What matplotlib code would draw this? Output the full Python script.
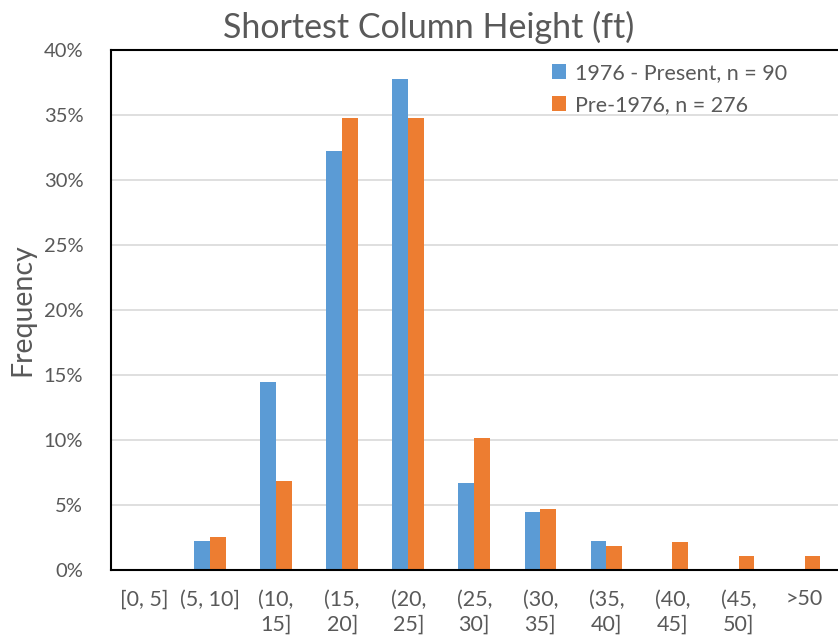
import matplotlib
matplotlib.use("Agg")
import matplotlib.pyplot as plt
import numpy as np
from matplotlib.ticker import PercentFormatter

categories = ["[0, 5]", "(5, 10]", "(10,\n15]", "(15,\n20]", "(20,\n25]", "(25,\n30]",
              "(30,\n35]", "(35,\n40]", "(40,\n45]", "(45,\n50]", ">50"]
present_pct = [0.0, 2.22, 14.44, 32.22, 37.78, 6.67, 4.44, 2.22, 0.0, 0.0, 0.0]
pre1976_pct = [0.0, 2.54, 6.88, 34.78, 34.78, 10.14, 4.71, 1.81, 2.17, 1.09, 1.09]
series_names = ["1976 - Present, n = 90", "Pre-1976, n = 276"]

plt.rcParams['font.family'] = ['Lato', 'DejaVu Sans']
text_color = "#595959"

fig = plt.figure(figsize=(8.38, 6.44), dpi=100)
ax = fig.add_axes([0.1325, 0.1149, 0.867, 0.8075])

x = np.arange(len(categories))
w = 0.24
ax.bar(x - w/2, present_pct, width=w, color="#5B9BD5", label=series_names[0], zorder=3)
ax.bar(x + w/2, pre1976_pct, width=w, color="#ED7D31", label=series_names[1], zorder=3)

ax.set_xlim(-0.5, len(categories) - 0.5)
ax.set_ylim(0, 40)
ax.set_yticks(np.arange(0, 41, 5))
ax.yaxis.set_major_formatter(PercentFormatter(decimals=0))
ax.set_xticks(x)
ax.set_xticklabels(categories, linespacing=1.35)
ax.tick_params(axis='y', length=0, labelsize=14.5, colors=text_color, pad=20)
ax.tick_params(axis='x', length=0, labelsize=15.5, colors=text_color, pad=14)
ax.grid(axis='y', color="#D9D9D9", linewidth=1.2, zorder=0)
ax.set_axisbelow(True)

for s in ["top", "left", "bottom"]:
    ax.spines[s].set_color("black")
    ax.spines[s].set_linewidth(1.5)
ax.spines["right"].set_visible(False)
ax.spines["bottom"].set_zorder(4)

fig.suptitle("Shortest Column Height (ft)", fontsize=24.5, color=text_color,
             x=0.511, y=0.958, va="center")
ax.set_ylabel("Frequency", fontsize=20.5, color=text_color, labelpad=6)

leg = ax.legend(loc="upper left", bbox_to_anchor=(0.5, 1.0), frameon=False, fontsize=15.5,
                handlelength=0.65, handleheight=0.65, handletextpad=0.45, labelspacing=0.55,
                borderaxespad=0.3)
for t in leg.get_texts():
    t.set_color(text_color)
fig.canvas.draw()
bb = leg.get_window_extent()
shift = (543 - bb.x0) / fig.bbox.width
leg.set_bbox_to_anchor((ax.get_position().x0 + 0.5 * ax.get_position().width + shift,
                        ax.get_position().y1 + 2 / fig.bbox.height), transform=fig.transFigure)

fig.savefig("out.png", dpi=100)
